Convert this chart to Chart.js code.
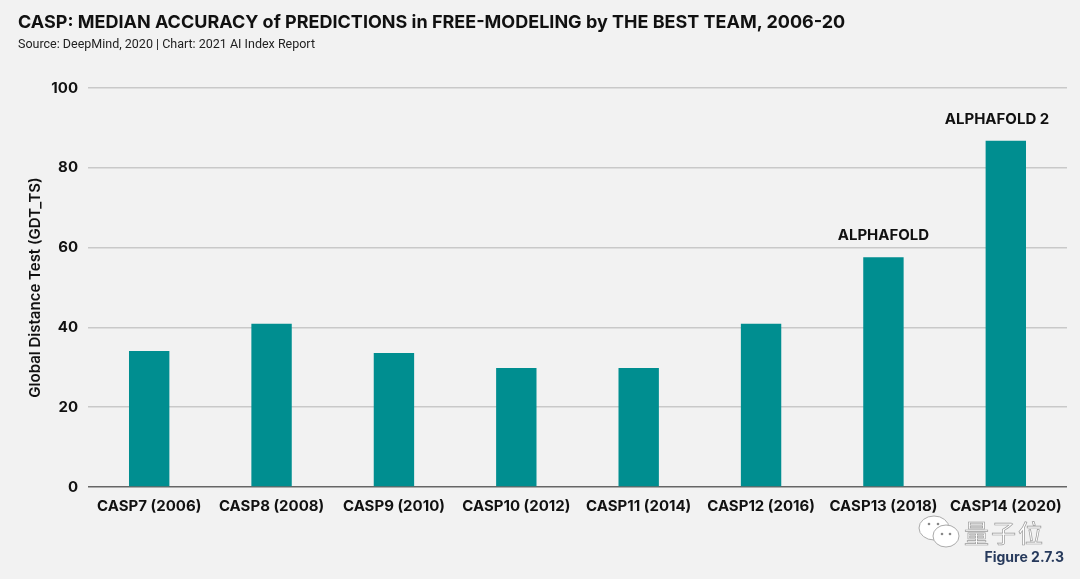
<!DOCTYPE html>
<html>
<head>
<meta charset="utf-8">
<script src="https://cdn.jsdelivr.net/npm/chart.js@4"></script>
<style>
  body { margin: 0; background: #f2f2f2; }
  #wrap { position: relative; width: 1080px; height: 579px; }
  .title { position: absolute; left: 18px; top: 11px; font: bold 18px Inter, sans-serif; color: #111; }
  .sub { position: absolute; left: 18px; top: 36px; font: 12.5px Roboto, sans-serif; color: #222; }
  .fig { position: absolute; right: 16px; top: 548px; font: bold 14px Inter, sans-serif; color: #273a5c; }
  .mark { position: absolute; left: 964px; top: 514px; font: 25px "Noto Sans CJK SC", sans-serif; color: #fff;
          -webkit-text-stroke: 0.7px #999; letter-spacing: 2px; }
  .icon { position: absolute; left: 916px; top: 514px; }
  canvas { position: absolute; left: 0; top: 0; }
</style>
</head>
<body>
<div id="wrap">
  <canvas id="myChart" width="1080" height="579"></canvas>
  <div class="title">CASP: MEDIAN ACCURACY of PREDICTIONS in FREE-MODELING by THE BEST TEAM, 2006-20</div>
  <div class="sub">Source: DeepMind, 2020 | Chart: 2021 AI Index Report</div>
  <svg class="icon" width="48" height="36">
    <ellipse cx="18" cy="14" rx="15" ry="12" fill="#fff" stroke="#aaa" stroke-width="1"/>
    <ellipse cx="30" cy="22" rx="13" ry="11" fill="#fff" stroke="#aaa" stroke-width="1"/>
    <circle cx="13" cy="10" r="1.3" fill="#888"/><circle cx="22" cy="10" r="1.3" fill="#888"/>
    <circle cx="26" cy="20" r="1.3" fill="#888"/><circle cx="34" cy="20" r="1.3" fill="#888"/>
  </svg>
  <div class="mark">量子位</div>
  <div class="fig">Figure 2.7.3</div>
</div>
<script>
const labels = ["CASP7 (2006)", "CASP8 (2008)", "CASP9 (2010)", "CASP10 (2012)",
  "CASP11 (2014)", "CASP12 (2016)", "CASP13 (2018)", "CASP14 (2020)"];
const gdt = [34.1, 40.9, 33.6, 29.8, 29.8, 40.9, 57.6, 86.8];
const notes = ["", "", "", "", "", "", "ALPHAFOLD", "ALPHAFOLD 2"];
const yTicks = [0, 20, 40, 60, 80, 100];

const noteLabels = {
  id: "noteLabels",
  afterDatasetsDraw(chart) {
    const ctx = chart.ctx;
    const meta = chart.getDatasetMeta(0);
    ctx.save();
    ctx.font = "bold 15px Inter, sans-serif";
    ctx.fillStyle = "#111";
    ctx.textAlign = "center";
    ctx.textBaseline = "bottom";
    meta.data.forEach((bar, i) => {
      if (!notes[i]) return;
      // keep the last label from running into the right edge
      const x = Math.min(bar.x, chart.chartArea.right - 70);
      ctx.fillText(notes[i], x, bar.y - 14);
    });
    ctx.restore();
  }
};

new Chart(document.getElementById("myChart"), {
  type: "bar",
  data: {
    labels,
    datasets: [{
      data: gdt,
      backgroundColor: "#008e90",
      borderWidth: 0,
      barPercentage: 0.33,
      categoryPercentage: 1
    }]
  },
  options: {
    responsive: false,
    animation: false,
    layout: { padding: { top: 88, right: 13, left: 0, bottom: 0 } },
    plugins: { legend: { display: false }, tooltip: { enabled: false } },
    scales: {
      x: {
        grid: { display: false, drawTicks: false },
        border: { display: false },
        ticks: { color: "#111", font: { family: "Inter", size: 15, weight: "bold" }, padding: 10 },
        afterFit(scale) { scale.height = 92; }
      },
      y: {
        min: 0,
        max: 100,
        afterBuildTicks(scale) { scale.ticks = yTicks.map(v => ({ value: v })); },
        grid: {
          drawTicks: false,
          lineWidth: 1.5,
          color: c => c.tick && c.tick.value === 0 ? "#666" : "#c9c9c9"
        },
        border: { display: false },
        ticks: { color: "#111", font: { family: "Inter", size: 15, weight: "bold" }, padding: 10 },
        title: {
          display: true,
          text: "Global Distance Test (GDT_TS)",
          color: "#111",
          font: { family: "Inter", size: 15, weight: "600" },
          padding: { top: 26, bottom: 0 }
        },
        afterFit(scale) { scale.width = 88; }
      }
    }
  },
  plugins: [noteLabels]
});
</script>
</body>
</html>
